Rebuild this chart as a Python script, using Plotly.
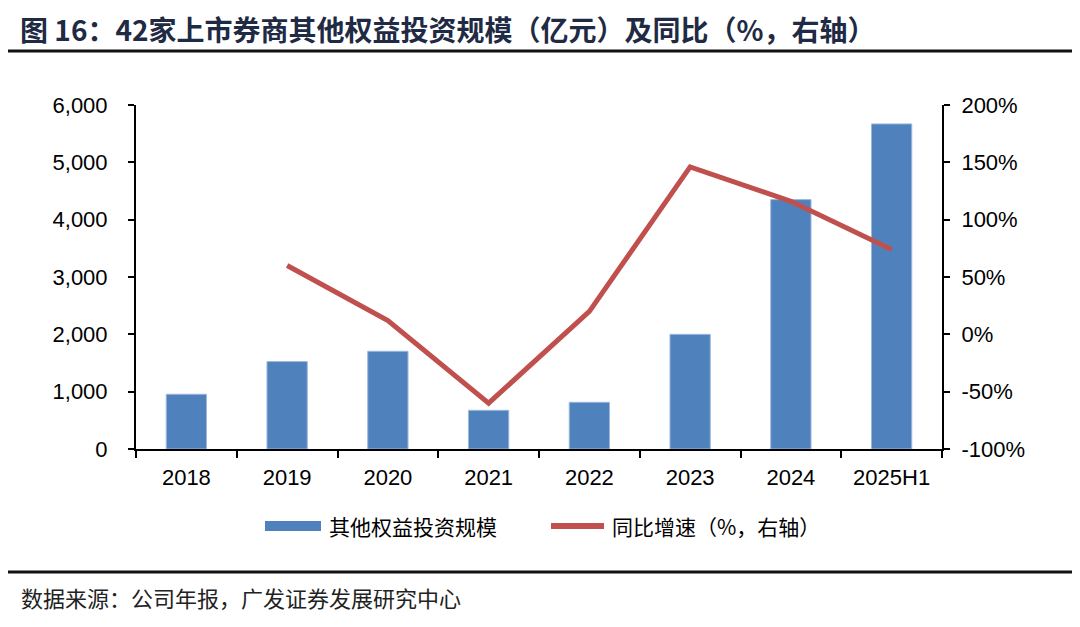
import plotly.graph_objects as go

# data
years = ['2018', '2019', '2020', '2021', '2022', '2023', '2024', '2025H1']
scale = [955, 1525, 1705, 675, 815, 2000, 4350, 5670]   # 亿元
yoy = [None, 60, 12, -60, 20, 146, 116, 74]              # %
right_ticks = [-100, -50, 0, 50, 100, 150, 200]

W, H = 1080, 627
OFF = 8                      # page body margin in the screenshot
X0, X1, Y0, Y1 = 136, 942, 105, 449   # plot area on screen
pw, ph = X1 - X0, Y1 - Y0
L, T = X0 - OFF, Y0 - OFF
R, B = W - L - pw, H - T - ph


def px_x(x):
    return (x - X0) / pw


def px_y(y):
    return (Y1 - y) / ph


fig = go.Figure()

fig.add_trace(go.Bar(x=years, y=scale, name='其他权益投资规模',
                     marker=dict(color='#4F81BD', line=dict(color='#9DB9DE', width=1)),
                     yaxis='y'))

fig.add_trace(go.Scatter(x=years, y=yoy, name='同比增速（%，右轴）',
                         mode='lines', line=dict(color='#C0504D', width=5),
                         yaxis='y2'))

axis_font = dict(family='Liberation Sans, Arial', size=22, color='black')
cjk = 'Noto Sans CJK SC'

fig.update_layout(
    width=W, height=H,
    margin=dict(l=L, r=R, t=T, b=B, autoexpand=False),
    paper_bgcolor='white', plot_bgcolor='white',
    bargap=0.6,
    showlegend=False,
    xaxis=dict(type='category', showline=True, linecolor='black', linewidth=2,
               ticks='outside', tickson='boundaries', ticklen=7, tickcolor='black', tickwidth=2,
               tickfont=axis_font, showgrid=False, ticklabelstandoff=8),
    yaxis=dict(range=[0, 6000], dtick=1000, tickformat=',', showline=True, linecolor='black',
               linewidth=2, ticks='outside', ticklen=6, tickcolor='black', tickwidth=2,
               tickfont=axis_font, showgrid=False, zeroline=False, ticklabelstandoff=16),
    yaxis2=dict(range=[-100, 200], tickvals=right_ticks,
                ticktext=['%d%%' % v for v in right_ticks], overlaying='y', side='right',
                showline=True, linecolor='black', linewidth=2, ticks='outside', ticklen=6,
                tickcolor='black', tickwidth=2, tickfont=axis_font, showgrid=False,
                zeroline=False, ticklabelstandoff=7),
)

# title and source
fig.add_annotation(text='<b>图 16：42家上市券商其他权益投资规模（亿元）及同比（%，右轴）</b>',
                   xref='paper', yref='paper', x=px_x(18), y=px_y(29),
                   xanchor='left', yanchor='middle', showarrow=False,
                   font=dict(family=cjk, size=28, color='#1F2A44'))

fig.add_annotation(text='数据来源：公司年报，广发证券发展研究中心',
                   xref='paper', yref='paper', x=px_x(19), y=px_y(597),
                   xanchor='left', yanchor='middle', showarrow=False,
                   font=dict(family=cjk, size=22, color='#222'))

for yy in (51, 572):
    fig.add_shape(type='line', xref='paper', yref='paper',
                  x0=px_x(3), x1=px_x(1078), y0=px_y(yy), y1=px_y(yy),
                  line=dict(color='#111', width=3))

# legend drawn by hand so the keys match the wide swatches of the original
fig.add_shape(type='rect', xref='paper', yref='paper',
              x0=px_x(265), x1=px_x(321), y0=px_y(521), y1=px_y(531),
              fillcolor='#4F81BD', line=dict(width=0))
fig.add_shape(type='line', xref='paper', yref='paper',
              x0=px_x(551), x1=px_x(604), y0=px_y(526), y1=px_y(526),
              line=dict(color='#C0504D', width=6))
fig.add_annotation(text='其他权益投资规模', xref='paper', yref='paper',
                   x=px_x(327), y=px_y(526), xanchor='left', yanchor='middle',
                   showarrow=False, font=dict(family=cjk, size=21, color='black'))
fig.add_annotation(text='同比增速（%，右轴）', xref='paper', yref='paper',
                   x=px_x(610), y=px_y(526), xanchor='left', yanchor='middle',
                   showarrow=False, font=dict(family=cjk, size=21, color='black'))

fig.write_html('out.html')
